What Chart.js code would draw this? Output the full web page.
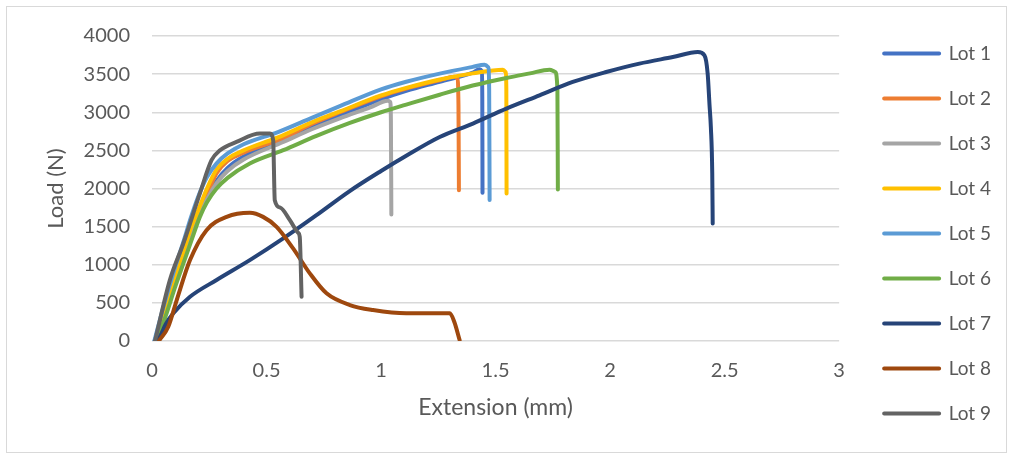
<!DOCTYPE html>
<html>
<head>
    <title>Load vs Extension</title>
    <script src="https://cdn.jsdelivr.net/npm/chart.js"></script>
    <style>
        body { margin: 0; background: #fff; }
        #wrap { position: relative; width: 1013px; height: 459px; }
        #frame { position: absolute; left: 6px; top: 6px; width: 999px; height: 445px; border: 1px solid #d9d9d9; pointer-events: none; }
    </style>
</head>
<body>
<div id="wrap">
    <canvas id="loadChart"></canvas>
    <div id="frame"></div>
</div>

<script>
    // extension (mm) / load (N)
    const lot1Ext  = [0.02, 0.06, 0.10, 0.137, 0.17, 0.20, 0.24, 0.282, 0.33, 0.40, 0.573, 0.70, 0.82, 1.00, 1.11, 1.256, 1.40, 1.43, 1.44, 1.442, 1.443];
    const lot1Load = [0, 420, 800, 1100, 1400, 1620, 1880, 2100, 2270, 2420, 2640, 2810, 2960, 3170, 3280, 3400, 3520, 3565, 3540, 3200, 1943];

    const lot2Ext  = [0.02, 0.06, 0.10, 0.137, 0.17, 0.20, 0.24, 0.282, 0.33, 0.40, 0.573, 0.70, 0.82, 1.00, 1.11, 1.256, 1.32, 1.333, 1.338, 1.34];
    const lot2Load = [0, 440, 830, 1130, 1430, 1640, 1920, 2200, 2360, 2470, 2660, 2850, 3000, 3210, 3310, 3420, 3465, 3440, 3100, 1978];

    const lot3Ext  = [0.02, 0.06, 0.10, 0.137, 0.17, 0.20, 0.24, 0.282, 0.33, 0.40, 0.573, 0.70, 0.82, 0.95, 1.03, 1.04, 1.043, 1.045];
    const lot3Load = [0, 400, 780, 1080, 1380, 1600, 1860, 2070, 2230, 2380, 2610, 2780, 2920, 3060, 3150, 3135, 2900, 1660];

    const lot4Ext  = [0.02, 0.06, 0.10, 0.137, 0.17, 0.20, 0.24, 0.282, 0.33, 0.40, 0.55, 0.70, 0.82, 1.00, 1.11, 1.256, 1.40, 1.532, 1.545, 1.547, 1.548];
    const lot4Load = [0, 450, 850, 1170, 1480, 1700, 2000, 2250, 2390, 2500, 2670, 2870, 3010, 3220, 3320, 3430, 3510, 3559, 3520, 3300, 1935];

    const lot5Ext  = [0.01, 0.05, 0.10, 0.137, 0.17, 0.20, 0.24, 0.282, 0.33, 0.40, 0.55, 0.70, 0.82, 1.00, 1.11, 1.256, 1.40, 1.452, 1.468, 1.472, 1.474];
    const lot5Load = [0, 450, 960, 1300, 1620, 1880, 2150, 2330, 2460, 2580, 2740, 2930, 3080, 3300, 3400, 3507, 3595, 3624, 3590, 3300, 1850];

    const lot6Ext  = [0.02, 0.06, 0.10, 0.137, 0.17, 0.209, 0.24, 0.282, 0.33, 0.427, 0.573, 0.718, 0.864, 1.00, 1.11, 1.256, 1.40, 1.547, 1.65, 1.736, 1.76, 1.77, 1.772];
    const lot6Load = [0, 330, 700, 1018, 1300, 1628, 1820, 2000, 2140, 2328, 2502, 2690, 2860, 3000, 3100, 3230, 3350, 3450, 3510, 3559, 3530, 3300, 1987];

    const lot7Ext  = [0.02, 0.035, 0.06, 0.093, 0.166, 0.282, 0.427, 0.573, 0.718, 0.86, 1.00, 1.11, 1.256, 1.401, 1.547, 1.692, 1.837, 1.983, 2.128, 2.274, 2.383, 2.412, 2.426, 2.434, 2.44, 2.446, 2.448];
    const lot7Load = [0, 60, 220, 363, 580, 800, 1060, 1345, 1650, 1960, 2230, 2430, 2676, 2852, 3048, 3222, 3397, 3528, 3638, 3724, 3790, 3747, 3507, 3100, 2800, 2200, 1542];

    const lot8Ext  = [0.03, 0.071, 0.108, 0.166, 0.238, 0.326, 0.427, 0.485, 0.544, 0.616, 0.689, 0.762, 0.864, 0.965, 1.11, 1.30, 1.32, 1.343];
    const lot8Load = [0, 187, 537, 1061, 1454, 1628, 1681, 1628, 1497, 1214, 887, 625, 472, 406, 363, 363, 250, 13];

    const lot9Ext  = [0.013, 0.078, 0.137, 0.209, 0.26, 0.297, 0.369, 0.471, 0.515, 0.529, 0.536, 0.56, 0.602, 0.638, 0.645, 0.653];
    const lot9Load = [0, 799, 1280, 1935, 2371, 2502, 2611, 2721, 2721, 2633, 1847, 1750, 1585, 1420, 1366, 580];

    const lotNames  = ['Lot 1', 'Lot 2', 'Lot 3', 'Lot 4', 'Lot 5', 'Lot 6', 'Lot 7', 'Lot 8', 'Lot 9'];
    const lotColors = ['#4472C4', '#ED7D31', '#A5A5A5', '#FFC000', '#5B9BD5', '#70AD47', '#264478', '#9E480E', '#636363'];
    const lotExt  = [lot1Ext, lot2Ext, lot3Ext, lot4Ext, lot5Ext, lot6Ext, lot7Ext, lot8Ext, lot9Ext];
    const lotLoad = [lot1Load, lot2Load, lot3Load, lot4Load, lot5Load, lot6Load, lot7Load, lot8Load, lot9Load];

    const textGrey = '#595959';
    Chart.defaults.font.family = 'Lato';

    const datasets = lotNames.map((name, i) => ({
        label: name,
        data: lotExt[i].map((x, j) => ({ x: x, y: lotLoad[i][j] })),
        borderColor: lotColors[i],
        backgroundColor: lotColors[i],
        borderWidth: 4,
        borderCapStyle: 'round',
        borderJoinStyle: 'round',
        pointRadius: 0,
        showLine: true,
        cubicInterpolationMode: 'monotone',
        order: lotNames.length - i   // later lots drawn on top, like Excel
    }));

    new Chart(document.getElementById('loadChart'), {
        type: 'scatter',
        data: { datasets: datasets },
        options: {
            responsive: true,
            maintainAspectRatio: false,
            animation: false,
            layout: { padding: { top: 8, bottom: 0, left: 0, right: 12 } },
            plugins: {
                tooltip: { enabled: false },
                legend: {
                    position: 'right',
                    labels: {
                        boxWidth: 55,
                        boxHeight: 0,
                        padding: 26,
                        color: textGrey,
                        font: { size: 19 },
                        sort: (a, b) => a.datasetIndex - b.datasetIndex
                    }
                }
            },
            scales: {
                x: {
                    type: 'linear',
                    min: 0,
                    max: 3,
                    ticks: { stepSize: 0.5, color: textGrey, font: { size: 20 }, padding: 18, callback: (v) => String(v) },
                    grid: { display: false, drawTicks: false },
                    border: { display: false },
                    title: { display: true, text: 'Extension (mm)', color: textGrey, font: { size: 23 }, padding: { top: 0, bottom: 38 } },
                    afterFit: (scale) => { scale.height = 118; }
                },
                // empty axes used only as spacers (top margin, gap before legend)
                gapTop: {
                    axis: 'x',
                    position: 'top',
                    display: true,
                    ticks: { display: false },
                    grid: { display: false, drawTicks: false },
                    border: { display: false },
                    afterFit: (scale) => { scale.height = 28; }
                },
                y: {
                    min: 0,
                    max: 4000,
                    ticks: { stepSize: 500, color: textGrey, font: { size: 20 }, padding: 22, callback: (v) => String(v) },
                    grid: { color: '#d9d9d9', lineWidth: 1.5, drawTicks: false },
                    border: { display: false },
                    title: { display: true, text: 'Load (N)', color: textGrey, font: { size: 22 }, padding: { top: 43, bottom: 0 } },
                    afterFit: (scale) => { scale.width = 152; }
                },
                gapRight: {
                    axis: 'y',
                    position: 'right',
                    display: true,
                    ticks: { display: false },
                    grid: { display: false, drawTicks: false },
                    border: { display: false },
                    afterFit: (scale) => { scale.width = 19; }
                }
            }
        }
    });
</script>
</body>
</html>
